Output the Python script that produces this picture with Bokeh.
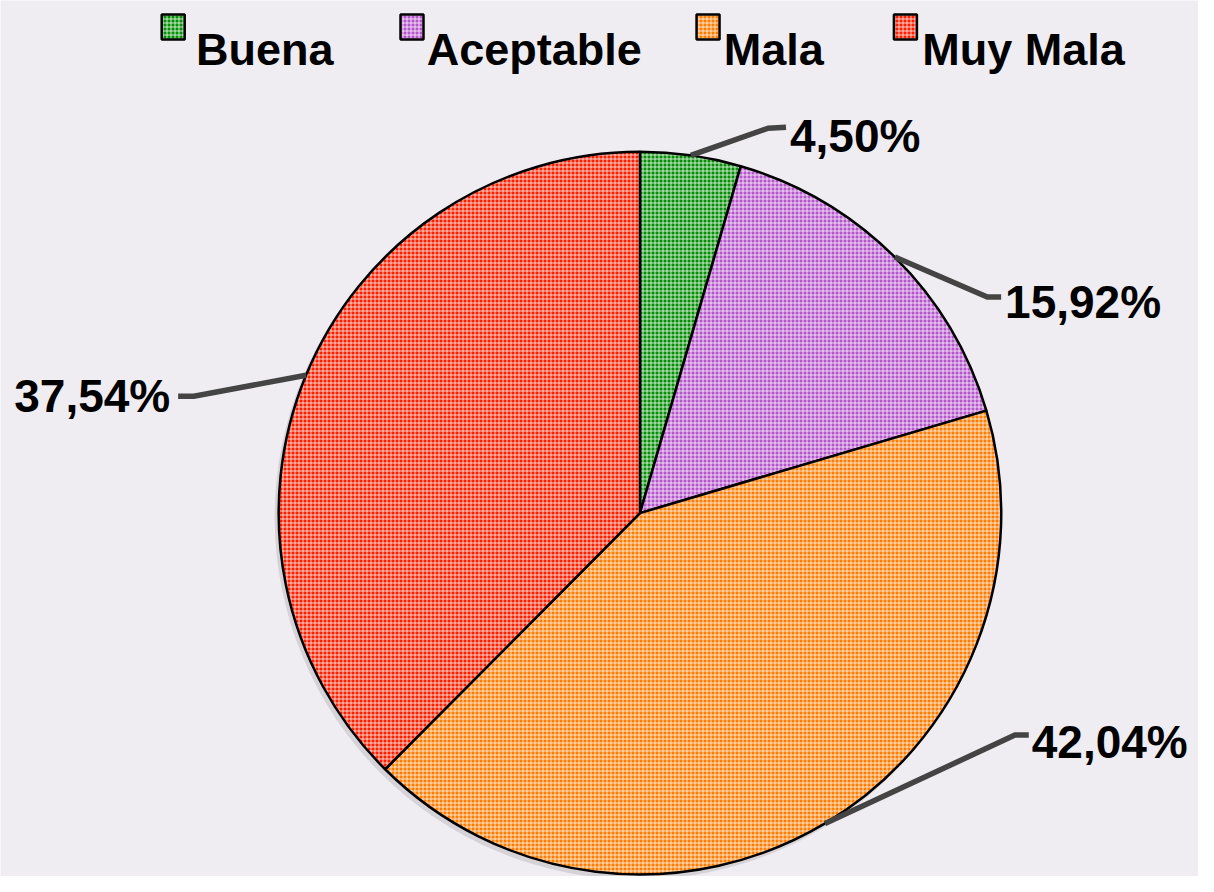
import numpy as np
from bokeh.plotting import figure
from bokeh.models import Range1d, ColumnDataSource
from bokeh.core.properties import value
from bokeh.embed import file_html
from bokeh.resources import INLINE

# ---- data ----
categories = ["Buena", "Aceptable", "Mala", "Muy Mala"]
percentages = [4.50, 15.92, 42.04, 37.54]
label_texts = ["4,50%", "15,92%", "42,04%", "37,54%"]
colors = ["#088f08", "#b455cc", "#ff7c00", "#ff1e00"]

# ---- layout (reference px -> plot coords) ----
W, H = 1198, 876
SX, SY = W / 1214, H / 892
S = (SX + SY) / 2
def px(x): return x * SX
def py(y): return H - y * SY

cx, cy, R = px(648), py(522), 367 * S

# label layout: elbow point, stub end, text anchor (reference px), alignment
label_elbow = [(778, 130), (1000, 302), (1028, 748), (196, 403)]
label_stub = [(796, 129), (1014, 302), (1042, 748), (180, 403)]
label_anchor = [(800, 138), (1018, 307), (1045, 755), (172, 403)]
label_align = ["left", "left", "left", "right"]

# legend layout (reference px)
leg_box_x = [163, 405, 705, 905]
leg_txt_x = [198, 432, 733, 934]

BG = "#efedf2"
FONT = "Liberation Sans"
HATCH = dict(hatch_pattern="+", hatch_color="white", hatch_scale=4,
             hatch_weight=0.9, hatch_alpha=0.85)

p = figure(width=W, height=H, x_range=Range1d(0, W), y_range=Range1d(0, H),
           output_backend="svg", toolbar_location=None, min_border=0)
p.axis.visible = False
p.grid.visible = False
p.outline_line_color = None
p.background_fill_color = BG
p.border_fill_color = BG

vals = np.array(percentages)
frac = vals / vals.sum()
cum_end = np.cumsum(frac)
cum_start = cum_end - frac
start_angle = np.pi / 2 - cum_end * 2 * np.pi
end_angle = np.pi / 2 - cum_start * 2 * np.pi
mid = (cum_start + cum_end) / 2 * 2 * np.pi  # clockwise from top

# soft shadow
p.circle(x=[cx - 3], y=[cy - 4], radius=R + 1, fill_color="#888888", fill_alpha=0.25,
         line_color=None)

src = ColumnDataSource(dict(x=[cx] * 4, y=[cy] * 4, start=start_angle, end=end_angle,
                            color=colors, cat=categories))
p.wedge(x="x", y="y", radius=R, start_angle="start", end_angle="end", source=src,
        fill_color="color", line_color="black", line_width=2.5, **HATCH)

# leader lines and labels
for i in range(4):
    ex = cx + R * np.sin(mid[i])
    ey = cy + R * np.cos(mid[i])
    xs = [ex, px(label_elbow[i][0]), px(label_stub[i][0])]
    ys = [ey, py(label_elbow[i][1]), py(label_stub[i][1])]
    p.line(xs, ys, line_color="#444444", line_width=5.5, line_join="miter")
    p.text(x=[px(label_anchor[i][0])], y=[py(label_anchor[i][1])], text=[label_texts[i]],
           text_font=value(FONT), text_font_style="bold", text_font_size="46px",
           text_color="black", text_align=label_align[i], text_baseline="alphabetic")

# legend
for i in range(4):
    bx = px(leg_box_x[i] + 12)
    p.rect(x=[bx], y=[py(27)], width=23, height=25, fill_color=colors[i],
           line_color="black", line_width=2.5, **HATCH)
    p.text(x=[px(leg_txt_x[i])], y=[py(50)], text=[categories[i]],
           text_font=value(FONT), text_font_style="bold", text_font_size="45px",
           text_color="black", text_align="left", text_baseline="alphabetic")

open("out.html", "w").write(file_html(p, INLINE))
